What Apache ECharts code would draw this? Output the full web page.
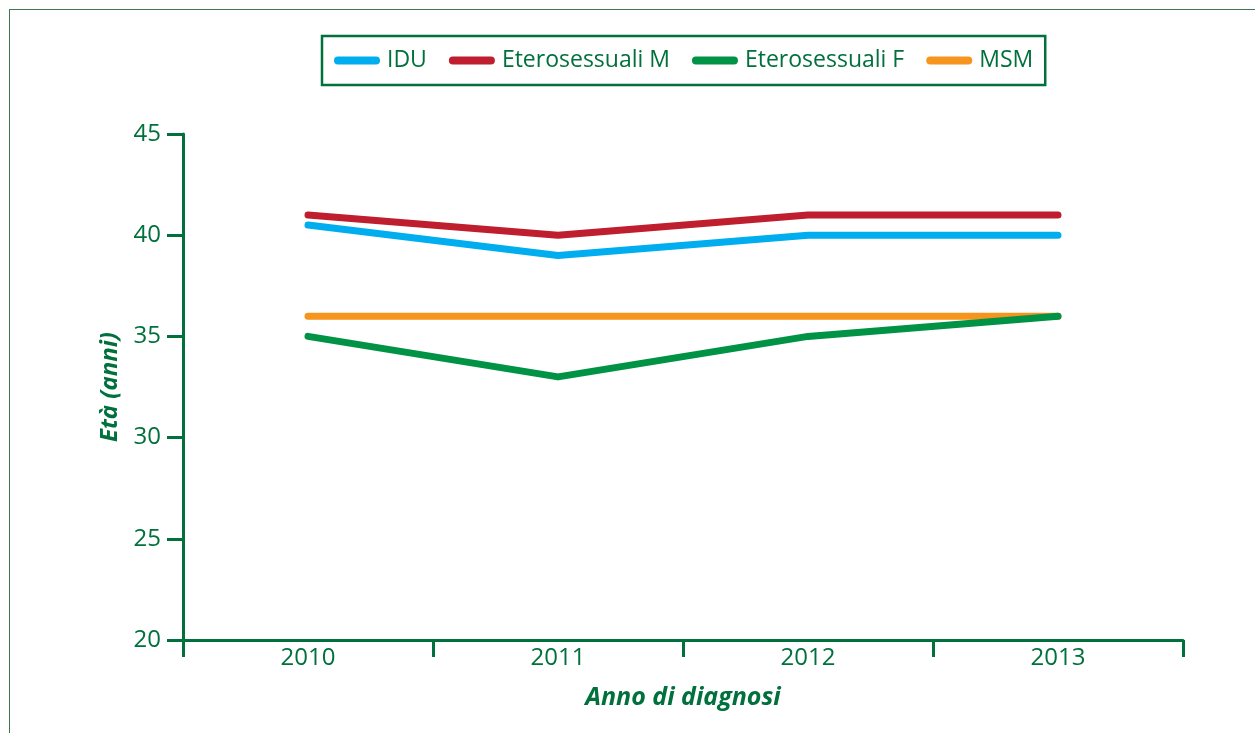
<!DOCTYPE html>
<html>
<head>
<meta charset="utf-8">
<script src="https://cdn.jsdelivr.net/npm/echarts@6/dist/echarts.min.js"></script>
<style>
html,body{margin:0;padding:0;background:#fff;}
#chart{width:1255px;height:733px;position:absolute;left:0;top:0;}
#frame{position:absolute;left:9px;top:9px;width:1260px;height:740px;border:1.5px solid #3f7553;box-sizing:border-box;pointer-events:none;}
</style>
</head>
<body>
<div id="chart"></div>
<div id="frame"></div>
<script>
const categories = ['2010', '2011', '2012', '2013'];
const idu = [40.5, 39, 40, 40];
const eteroM = [41, 40, 41, 41];
const eteroF = [35, 33, 35, 36];
const msm = [36, 36, 36, 36];
const seriesNames = ['IDU', 'Eterosessuali M', 'Eterosessuali F', 'MSM'];
const colors = ['#00aeef', '#be1e2d', '#009245', '#f7941d'];
const yMin = 20, yMax = 45, yStep = 5;

const green = '#00703c';
const font = '"Open Sans", "Noto Sans", sans-serif';
const pill = 'path://M4,0 L42,0 A4,4 0 0 1 42,8 L4,8 A4,4 0 0 1 4,0 Z';

const chart = echarts.init(document.getElementById('chart'));
const data = [idu, eteroM, eteroF, msm];
chart.setOption({
  animation: false,
  backgroundColor: '#fff',
  legend: {
    top: 36,
    left: 322,
    data: seriesNames.map(n => ({name: n, icon: pill})),
    itemWidth: 46,
    itemHeight: 9,
    itemGap: 22,
    padding: [13, 12, 13, 12],
    borderColor: green,
    borderWidth: 2.5,
    textStyle: {color: green, fontSize: 23, fontFamily: font, padding: [0, 0, 0, 2]}
  },
  grid: {left: 183, right: 72, top: 134, bottom: 93},
  xAxis: {
    type: 'category',
    data: categories,
    boundaryGap: true,
    name: 'Anno di diagnosi',
    nameLocation: 'middle',
    nameGap: 45,
    nameTextStyle: {color: green, fontSize: 25, fontStyle: 'italic', fontWeight: 'bold', fontFamily: font},
    axisLine: {lineStyle: {color: green, width: 3}},
    axisTick: {show: true, length: 17, lineStyle: {color: green, width: 3}},
    axisLabel: {color: green, fontSize: 24, fontFamily: font, margin: 6}
  },
  yAxis: {
    type: 'value',
    min: yMin,
    max: yMax,
    interval: yStep,
    name: 'Età (anni)',
    nameLocation: 'middle',
    nameGap: 52,
    nameTextStyle: {color: green, fontSize: 24, fontStyle: 'italic', fontWeight: 'bold', fontFamily: font},
    axisLine: {show: true, lineStyle: {color: green, width: 3}},
    axisTick: {show: true, length: 16, lineStyle: {color: green, width: 3}},
    axisLabel: {color: green, fontSize: 24, fontFamily: font, margin: 22},
    splitLine: {show: false}
  },
  series: seriesNames.map((n, i) => ({
    name: n,
    type: 'line',
    data: data[i],
    showSymbol: false,
    symbol: 'none',
    itemStyle: {color: colors[i]},
    lineStyle: {color: colors[i], width: 7, cap: 'round', join: 'round'},
    z: [2, 3, 4, 1][i]
  }))
});
</script>
</body>
</html>
